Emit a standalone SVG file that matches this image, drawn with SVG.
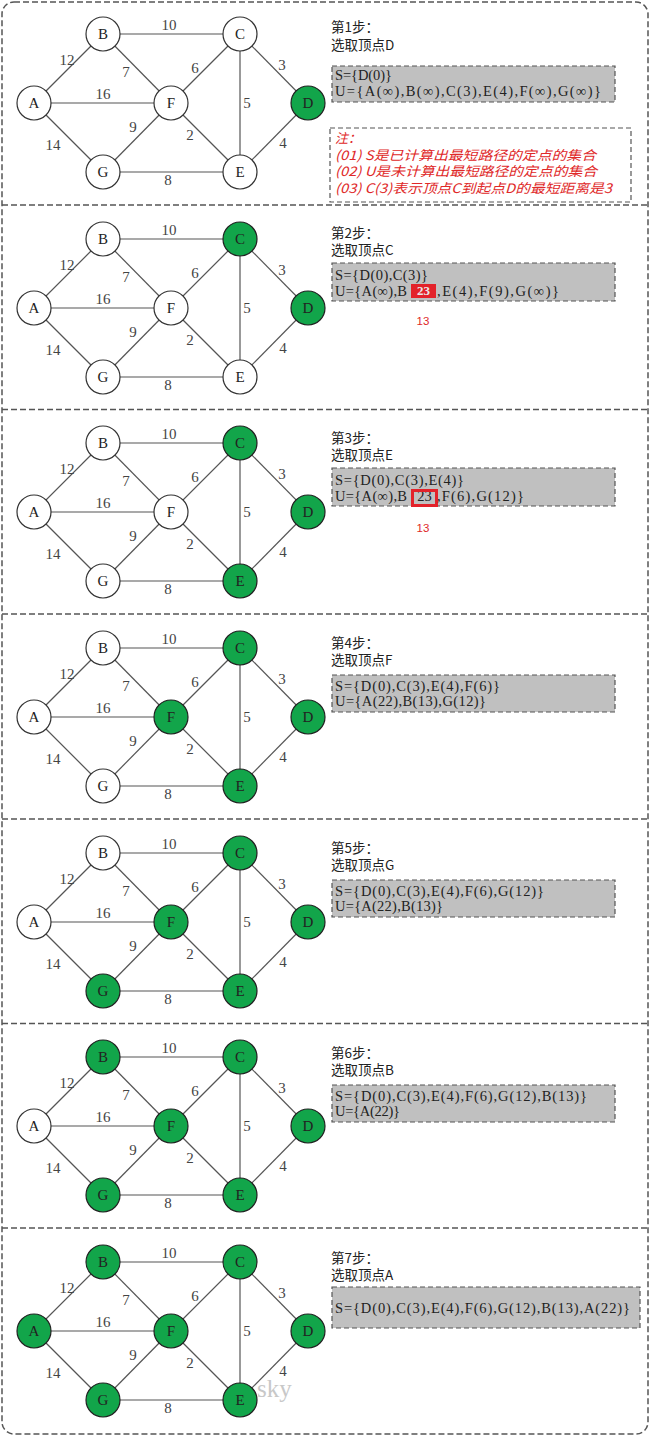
<svg xmlns="http://www.w3.org/2000/svg" width="650" height="1436" viewBox="0 0 650 1436">
<style>
.edge{stroke:#555;stroke-width:1.2}
.nw{fill:#fff;stroke:#333;stroke-width:1.2}
.ng{fill:#12a54a;stroke:#222;stroke-width:1.2}
.nl{font-family:"Liberation Serif",serif;font-size:15px;fill:#222;text-anchor:middle}
.wl{font-family:"Liberation Serif",serif;font-size:15px;fill:#444;text-anchor:middle}
.step{font-family:"Noto Sans CJK SC",sans-serif;font-size:13.5px;fill:#222}
.box{fill:#c0c0c0;stroke:#555;stroke-width:1.2;stroke-dasharray:5 3}
.set{font-family:"Liberation Serif",serif;font-size:14.5px;fill:#222}
.note{font-family:"Noto Sans CJK SC",sans-serif;font-size:13px;fill:#e02828;font-style:italic}
.nbox{fill:#fff;stroke:#555;stroke-width:1.2;stroke-dasharray:5 3}
.frame{fill:none;stroke:#555;stroke-width:1.5;stroke-dasharray:6 3}
.red13{font-family:"Liberation Sans",sans-serif;font-size:11.5px;fill:#e02828;text-anchor:middle}
</style>
<defs>
<g id="edgeset">
<line class="edge" x1="34" y1="103" x2="103" y2="34"/>
<line class="edge" x1="34" y1="103" x2="171" y2="103"/>
<line class="edge" x1="34" y1="103" x2="103" y2="172"/>
<line class="edge" x1="103" y1="34" x2="240" y2="34"/>
<line class="edge" x1="103" y1="34" x2="171" y2="103"/>
<line class="edge" x1="240" y1="34" x2="171" y2="103"/>
<line class="edge" x1="240" y1="34" x2="308" y2="103"/>
<line class="edge" x1="240" y1="34" x2="240" y2="172"/>
<line class="edge" x1="171" y1="103" x2="240" y2="172"/>
<line class="edge" x1="171" y1="103" x2="103" y2="172"/>
<line class="edge" x1="103" y1="172" x2="240" y2="172"/>
<line class="edge" x1="240" y1="172" x2="308" y2="103"/>
<text class="wl" x="169" y="30">10</text>
<text class="wl" x="67" y="65">12</text>
<text class="wl" x="126" y="77">7</text>
<text class="wl" x="195" y="73">6</text>
<text class="wl" x="282" y="70">3</text>
<text class="wl" x="103" y="99">16</text>
<text class="wl" x="247" y="108">5</text>
<text class="wl" x="133" y="132">9</text>
<text class="wl" x="190" y="140">2</text>
<text class="wl" x="283" y="148">4</text>
<text class="wl" x="53" y="150">14</text>
<text class="wl" x="168" y="185">8</text>
</g>
</defs>

<rect class="frame" x="2" y="2" width="646" height="1432" rx="12"/>
<g id="dividers">
<line class="frame" x1="2" y1="205" x2="648" y2="205"/>
<line class="frame" x1="2" y1="409.5" x2="648" y2="409.5"/>
<line class="frame" x1="2" y1="614" x2="648" y2="614"/>
<line class="frame" x1="2" y1="819" x2="648" y2="819"/>
<line class="frame" x1="2" y1="1023.5" x2="648" y2="1023.5"/>
<line class="frame" x1="2" y1="1228" x2="648" y2="1228"/>
</g>

<!-- Panel 1 -->
<g id="panel1" transform="translate(0,0)">
<g id="p1-edges"><use href="#edgeset"/></g>
<g id="p1-A"><circle class="nw" cx="34" cy="103" r="17"/><text class="nl" x="34" y="108">A</text></g>
<g id="p1-B"><circle class="nw" cx="103" cy="34" r="17"/><text class="nl" x="103" y="39">B</text></g>
<g id="p1-C"><circle class="nw" cx="240" cy="34" r="17"/><text class="nl" x="240" y="39">C</text></g>
<g id="p1-D"><circle class="ng" cx="308" cy="103" r="17"/><text class="nl" x="308" y="108">D</text></g>
<g id="p1-E"><circle class="nw" cx="240" cy="172" r="17"/><text class="nl" x="240" y="177">E</text></g>
<g id="p1-F"><circle class="nw" cx="171" cy="103" r="17"/><text class="nl" x="171" y="108">F</text></g>
<g id="p1-G"><circle class="nw" cx="103" cy="172" r="17"/><text class="nl" x="103" y="177">G</text></g>
</g>
<g id="p1-text">
<text class="step" x="331" y="32">第1步：</text>
<text class="step" x="331" y="50">选取顶点D</text>
<rect class="box" x="332" y="66" width="283" height="36"/>
<text class="set" x="335" y="80" textLength="57" lengthAdjust="spacing">S={D(0)}</text>
<text class="set" x="335" y="96" textLength="266" lengthAdjust="spacing">U={A(∞),B(∞),C(3),E(4),F(∞),G(∞)}</text>
<rect class="nbox" x="330" y="128" width="301" height="74"/>
<text class="note" x="335" y="143">注：</text>
<text class="note" x="335" y="160" textLength="261" lengthAdjust="spacingAndGlyphs">(01) S是已计算出最短路径的定点的集合</text>
<text class="note" x="335" y="176" textLength="262" lengthAdjust="spacingAndGlyphs">(02) U是未计算出最短路径的定点的集合</text>
<text class="note" x="335" y="193" textLength="277" lengthAdjust="spacingAndGlyphs">(03) C(3)表示顶点C到起点D的最短距离是3</text>
</g>

<!-- Panel 2 -->
<g id="panel2" transform="translate(0,205)">
<g id="p2-edges"><use href="#edgeset"/></g>
<g id="p2-A"><circle class="nw" cx="34" cy="103" r="17"/><text class="nl" x="34" y="108">A</text></g>
<g id="p2-B"><circle class="nw" cx="103" cy="34" r="17"/><text class="nl" x="103" y="39">B</text></g>
<g id="p2-C"><circle class="ng" cx="240" cy="34" r="17"/><text class="nl" x="240" y="39">C</text></g>
<g id="p2-D"><circle class="ng" cx="308" cy="103" r="17"/><text class="nl" x="308" y="108">D</text></g>
<g id="p2-E"><circle class="nw" cx="240" cy="172" r="17"/><text class="nl" x="240" y="177">E</text></g>
<g id="p2-F"><circle class="nw" cx="171" cy="103" r="17"/><text class="nl" x="171" y="108">F</text></g>
<g id="p2-G"><circle class="nw" cx="103" cy="172" r="17"/><text class="nl" x="103" y="177">G</text></g>
</g>
<g id="p2-text">
<text class="step" x="331" y="238">第2步：</text>
<text class="step" x="331" y="255">选取顶点C</text>
<rect class="box" x="332" y="263" width="283" height="38"/>
<text class="set" x="335" y="280" textLength="93" lengthAdjust="spacing">S={D(0),C(3)}</text>
<text class="set" x="335" y="296" textLength="72" lengthAdjust="spacing">U={A(∞),B</text>
<rect x="411" y="284" width="25" height="14" fill="#e3222a"/>
<text x="423.5" y="295" font-family="Liberation Serif, serif" font-size="13" font-weight="bold" fill="#e8e8e8" text-anchor="middle">23</text>
<text class="set" x="437" y="296" textLength="122" lengthAdjust="spacing">,E(4),F(9),G(∞)}</text>
<text class="red13" x="423" y="325">13</text>
</g>

<!-- Panel 3 -->
<g id="panel3" transform="translate(0,409)">
<g id="p3-edges"><use href="#edgeset"/></g>
<g id="p3-A"><circle class="nw" cx="34" cy="103" r="17"/><text class="nl" x="34" y="108">A</text></g>
<g id="p3-B"><circle class="nw" cx="103" cy="34" r="17"/><text class="nl" x="103" y="39">B</text></g>
<g id="p3-C"><circle class="ng" cx="240" cy="34" r="17"/><text class="nl" x="240" y="39">C</text></g>
<g id="p3-D"><circle class="ng" cx="308" cy="103" r="17"/><text class="nl" x="308" y="108">D</text></g>
<g id="p3-E"><circle class="ng" cx="240" cy="172" r="17"/><text class="nl" x="240" y="177">E</text></g>
<g id="p3-F"><circle class="nw" cx="171" cy="103" r="17"/><text class="nl" x="171" y="108">F</text></g>
<g id="p3-G"><circle class="nw" cx="103" cy="172" r="17"/><text class="nl" x="103" y="177">G</text></g>
</g>
<g id="p3-text">
<text class="step" x="331" y="443">第3步：</text>
<text class="step" x="331" y="460">选取顶点E</text>
<rect class="box" x="332" y="468" width="283" height="38"/>
<text class="set" x="335" y="485" textLength="129" lengthAdjust="spacing">S={D(0),C(3),E(4)}</text>
<text class="set" x="335" y="501" textLength="72" lengthAdjust="spacing">U={A(∞),B</text>
<text class="set" x="424.5" y="501" text-anchor="middle">23</text>
<rect x="412.5" y="490.5" width="24" height="15" fill="none" stroke="#e3222a" stroke-width="3"/>
<text class="set" x="437" y="501" textLength="87" lengthAdjust="spacing">,F(6),G(12)}</text>
<text class="red13" x="423" y="532">13</text>
</g>

<!-- Panel 4 -->
<g id="panel4" transform="translate(0,614)">
<g id="p4-edges"><use href="#edgeset"/></g>
<g id="p4-A"><circle class="nw" cx="34" cy="103" r="17"/><text class="nl" x="34" y="108">A</text></g>
<g id="p4-B"><circle class="nw" cx="103" cy="34" r="17"/><text class="nl" x="103" y="39">B</text></g>
<g id="p4-C"><circle class="ng" cx="240" cy="34" r="17"/><text class="nl" x="240" y="39">C</text></g>
<g id="p4-D"><circle class="ng" cx="308" cy="103" r="17"/><text class="nl" x="308" y="108">D</text></g>
<g id="p4-E"><circle class="ng" cx="240" cy="172" r="17"/><text class="nl" x="240" y="177">E</text></g>
<g id="p4-F"><circle class="ng" cx="171" cy="103" r="17"/><text class="nl" x="171" y="108">F</text></g>
<g id="p4-G"><circle class="nw" cx="103" cy="172" r="17"/><text class="nl" x="103" y="177">G</text></g>
</g>
<g id="p4-text">
<text class="step" x="331" y="648">第4步：</text>
<text class="step" x="331" y="665">选取顶点F</text>
<rect class="box" x="332" y="675" width="283" height="37"/>
<text class="set" x="335" y="691" textLength="165" lengthAdjust="spacing">S={D(0),C(3),E(4),F(6)}</text>
<text class="set" x="335" y="706" textLength="151" lengthAdjust="spacing">U={A(22),B(13),G(12)}</text>
</g>

<!-- Panel 5 -->
<g id="panel5" transform="translate(0,819)">
<g id="p5-edges"><use href="#edgeset"/></g>
<g id="p5-A"><circle class="nw" cx="34" cy="103" r="17"/><text class="nl" x="34" y="108">A</text></g>
<g id="p5-B"><circle class="nw" cx="103" cy="34" r="17"/><text class="nl" x="103" y="39">B</text></g>
<g id="p5-C"><circle class="ng" cx="240" cy="34" r="17"/><text class="nl" x="240" y="39">C</text></g>
<g id="p5-D"><circle class="ng" cx="308" cy="103" r="17"/><text class="nl" x="308" y="108">D</text></g>
<g id="p5-E"><circle class="ng" cx="240" cy="172" r="17"/><text class="nl" x="240" y="177">E</text></g>
<g id="p5-F"><circle class="ng" cx="171" cy="103" r="17"/><text class="nl" x="171" y="108">F</text></g>
<g id="p5-G"><circle class="ng" cx="103" cy="172" r="17"/><text class="nl" x="103" y="177">G</text></g>
</g>
<g id="p5-text">
<text class="step" x="331" y="853">第5步：</text>
<text class="step" x="331" y="870">选取顶点G</text>
<rect class="box" x="332" y="880" width="283" height="37"/>
<text class="set" x="335" y="896" textLength="209" lengthAdjust="spacing">S={D(0),C(3),E(4),F(6),G(12)}</text>
<text class="set" x="335" y="911" textLength="108" lengthAdjust="spacing">U={A(22),B(13)}</text>
</g>

<!-- Panel 6 -->
<g id="panel6" transform="translate(0,1023)">
<g id="p6-edges"><use href="#edgeset"/></g>
<g id="p6-A"><circle class="nw" cx="34" cy="103" r="17"/><text class="nl" x="34" y="108">A</text></g>
<g id="p6-B"><circle class="ng" cx="103" cy="34" r="17"/><text class="nl" x="103" y="39">B</text></g>
<g id="p6-C"><circle class="ng" cx="240" cy="34" r="17"/><text class="nl" x="240" y="39">C</text></g>
<g id="p6-D"><circle class="ng" cx="308" cy="103" r="17"/><text class="nl" x="308" y="108">D</text></g>
<g id="p6-E"><circle class="ng" cx="240" cy="172" r="17"/><text class="nl" x="240" y="177">E</text></g>
<g id="p6-F"><circle class="ng" cx="171" cy="103" r="17"/><text class="nl" x="171" y="108">F</text></g>
<g id="p6-G"><circle class="ng" cx="103" cy="172" r="17"/><text class="nl" x="103" y="177">G</text></g>
</g>
<g id="p6-text">
<text class="step" x="331" y="1058">第6步：</text>
<text class="step" x="331" y="1075">选取顶点B</text>
<rect class="box" x="332" y="1085" width="283" height="37"/>
<text class="set" x="335" y="1101" textLength="252" lengthAdjust="spacing">S={D(0),C(3),E(4),F(6),G(12),B(13)}</text>
<text class="set" x="335" y="1116" textLength="65" lengthAdjust="spacing">U={A(22)}</text>
</g>

<!-- Panel 7 -->
<g id="panel7" transform="translate(0,1228)">
<g id="p7-edges"><use href="#edgeset"/></g>
<text x="257" y="169" font-family="Liberation Serif, serif" font-size="25" fill="#c8c8c8">sky</text>
<g id="p7-A"><circle class="ng" cx="34" cy="103" r="17"/><text class="nl" x="34" y="108">A</text></g>
<g id="p7-B"><circle class="ng" cx="103" cy="34" r="17"/><text class="nl" x="103" y="39">B</text></g>
<g id="p7-C"><circle class="ng" cx="240" cy="34" r="17"/><text class="nl" x="240" y="39">C</text></g>
<g id="p7-D"><circle class="ng" cx="308" cy="103" r="17"/><text class="nl" x="308" y="108">D</text></g>
<g id="p7-E"><circle class="ng" cx="240" cy="172" r="17"/><text class="nl" x="240" y="177">E</text></g>
<g id="p7-F"><circle class="ng" cx="171" cy="103" r="17"/><text class="nl" x="171" y="108">F</text></g>
<g id="p7-G"><circle class="ng" cx="103" cy="172" r="17"/><text class="nl" x="103" y="177">G</text></g>
</g>
<g id="p7-text">
<text class="step" x="331" y="1263">第7步：</text>
<text class="step" x="331" y="1280">选取顶点A</text>
<rect class="box" x="332" y="1287" width="308" height="41"/>
<text class="set" x="335" y="1313" textLength="295" lengthAdjust="spacing">S={D(0),C(3),E(4),F(6),G(12),B(13),A(22)}</text>
</g>
</svg>
